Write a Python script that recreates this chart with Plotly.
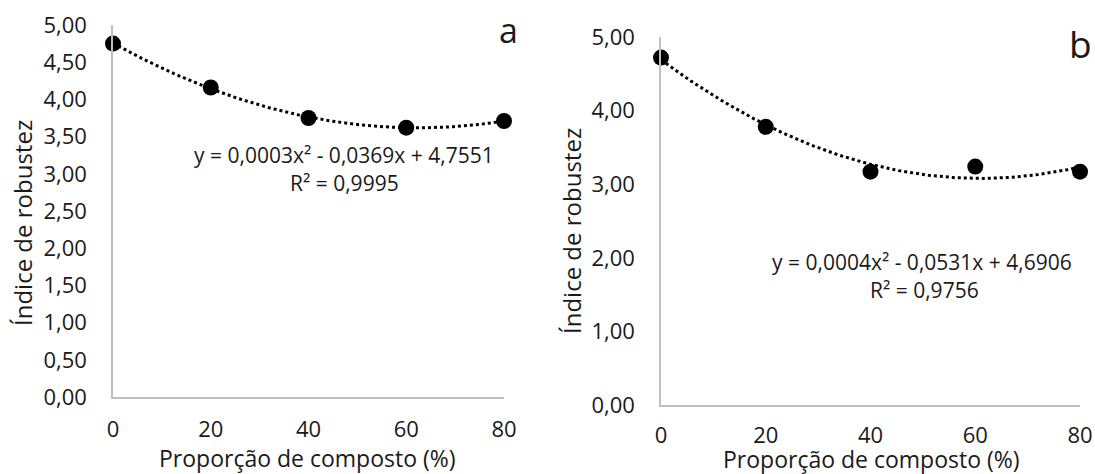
import numpy as np
import plotly.graph_objects as go

W, H = 1095, 474

x_vals = [0, 20, 40, 60, 80]
y_a = [4.75, 4.16, 3.75, 3.62, 3.71]
y_b = [4.72, 3.78, 3.17, 3.24, 3.17]

eq_a = ["y = 0,0003x² - 0,0369x + 4,7551", "R² = 0,9995"]
eq_b = ["y = 0,0004x² - 0,0531x + 4,6906", "R² = 0,9756"]

x_title = "Proporção de composto (%)"
y_title = "Índice de robustez"
panel_labels = ["a", "b"]

FONT = "Open Sans"
AX_COLOR = "#bfbfbf"
TXT = "#1a1a1a"

def px(x):
    return x / W

def py(y):
    return 1 - y / H

fig = go.Figure()

xs_fit = np.linspace(0, 80, 200)
for i, ys in enumerate([y_a, y_b]):
    xa = "x" if i == 0 else "x2"
    ya = "y" if i == 0 else "y2"
    coef = np.polyfit(x_vals, ys, 2)
    fig.add_trace(go.Scatter(x=xs_fit, y=np.polyval(coef, xs_fit), mode="lines",
                             line=dict(color="black", width=3, dash="dot"),
                             xaxis=xa, yaxis=ya, showlegend=False, hoverinfo="skip",
                             cliponaxis=False))
    fig.add_trace(go.Scatter(x=x_vals, y=ys, mode="markers",
                             marker=dict(color="black", size=16),
                             xaxis=xa, yaxis=ya, showlegend=False, cliponaxis=False))

L = dict(x0=113, x1=504, ytop=25, ybot=397)
R = dict(x0=661, x1=1080, ytop=37, ybot=405)

common_x = dict(range=[0, 80], tickvals=x_vals, showgrid=False, zeroline=False,
                showline=True, linecolor=AX_COLOR, linewidth=1.5, ticks="",
                automargin=False,
                tickfont=dict(family=FONT, size=22, color=TXT))
common_y = dict(showgrid=False, zeroline=False, showline=True, linecolor=AX_COLOR,
                linewidth=1.5, tickformat=".2f", ticks="", ticklabelstandoff=20,
                automargin=False,
                tickfont=dict(family=FONT, size=22, color=TXT))

fig.update_layout(
    width=W, height=H,
    margin=dict(l=0, r=0, t=0, b=0, pad=0),
    paper_bgcolor="white", plot_bgcolor="white",
    separators=",.",
    font=dict(family=FONT, color=TXT),
    xaxis=dict(domain=[px(L["x0"]), px(L["x1"])], anchor="y", ticklabelstandoff=12, **common_x),
    yaxis=dict(domain=[py(L["ybot"]), py(L["ytop"])], anchor="x", range=[0, 5],
               dtick=0.5, **common_y),
    xaxis2=dict(domain=[px(R["x0"]), px(R["x1"])], anchor="y2", ticklabelstandoff=10, **common_x),
    yaxis2=dict(domain=[py(R["ybot"]), py(R["ytop"])], anchor="x2", range=[0, 5],
                dtick=1, **common_y),
)

ann = []
def add(text, x, y, size, **kw):
    ann.append(dict(text=text, x=px(x), y=py(y), xref="paper", yref="paper",
                    showarrow=False, xanchor="center", yanchor="middle",
                    font=dict(family=FONT, size=size, color=TXT), **kw))

add(x_title, 308, 458, 23)
add(x_title, 871, 459, 23)
add(y_title, 22, 223, 24, textangle=-90)
add(y_title, 572, 231, 24, textangle=-90)
add(panel_labels[0], 508, 30, 34)
add(panel_labels[1], 1080, 44, 37)
add(eq_a[0], 344, 155, 21)
add(eq_a[1], 344, 183, 21)
add(eq_b[0], 922, 262, 21)
add(eq_b[1], 924, 290, 21)

fig.update_layout(annotations=ann)
fig.write_html("out.html", config={"displayModeBar": False},
               post_script="document.body.style.margin='0';document.body.style.overflow='hidden';")
